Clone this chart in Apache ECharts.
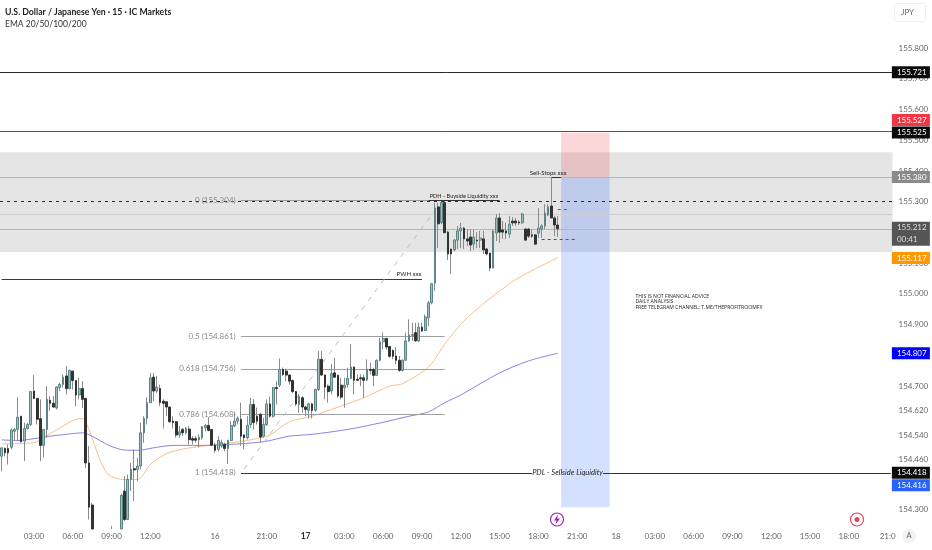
<!DOCTYPE html>
<html><head><meta charset="utf-8">
<style>html,body{margin:0;padding:0;background:#fff}#c{width:932px;height:550px}</style>
<script src="https://cdn.jsdelivr.net/npm/echarts@6/dist/echarts.min.js"></script>
</head><body><div id="c"></div>
<script>
const BAR_COUNT = 276;
const tickIndex = [10,22,34,46,66,82,94,106,118,130,142,154,166,178,190,202,214,226,238,250,262,274];
const tickText = ['03:00','06:00','09:00','12:00','16','21:00','17','03:00','06:00','09:00','12:00','15:00','18:00','21:00','18','03:00','06:00','09:00','12:00','15:00','18:00','21:0'];
const priceTicks = [155.8,155.7,155.6,155.5,155.4,155.3,155.1,155.0,154.9,154.7,154.62,154.54,154.46,154.3];

const opens = [
154.472,154.497,154.497,154.501,154.553,154.559,154.602,154.521,154.562,154.575,
154.684,154.660,154.594,154.507,154.559,154.654,154.644,154.629,154.695,154.705,
154.733,154.692,154.749,154.718,154.671,154.692,154.660,154.450,154.313,154.190,
154.150,154.120,154.100,154.130,154.160,154.190,154.170,154.200,154.358,154.266,
154.396,154.431,154.429,154.440,154.548,154.595,154.646,154.729,154.684,154.692,
154.651,154.649,154.632,154.586,154.584,154.541,154.559,154.548,154.560,154.529,
154.529,154.525,154.532,154.564,154.572,154.559,154.508,154.494,154.505,154.510,
154.497,154.523,154.570,154.586,154.592,154.541,154.532,154.575,154.640,154.602,
154.608,154.537,154.575,154.642,154.602,154.695,154.703,154.754,154.749,154.736,
154.718,154.682,154.640,154.662,154.632,154.621,154.642,154.621,154.689,154.787,
154.736,154.700,154.684,154.743,154.735,154.703,154.695,154.705,154.725,154.762,
154.722,154.727,154.727,154.720,154.754,154.754,154.735,154.784,154.844,154.855,
154.829,154.816,154.798,154.784,154.751,154.784,154.847,154.865,154.874,154.847,
154.892,154.881,154.922,154.971,155.035,155.283,155.232,155.297,155.201,155.146,
155.143,155.175,155.205,155.214,155.179,155.185,155.162,155.175,155.175,155.179,
155.146,155.133,155.084,155.198,155.247,155.208,155.205,155.195,155.237,155.237,
155.234,155.231,155.211,155.211,155.192,155.192,155.198,155.211,155.221,155.257,155.286,155.247,155.224];
const closes = [
154.499,154.483,154.483,154.557,154.559,154.599,154.519,154.562,154.575,154.682,
154.660,154.592,154.507,154.559,154.657,154.644,154.632,154.697,154.705,154.729,
154.692,154.751,154.718,154.671,154.692,154.657,154.450,154.306,154.200,154.150,
154.120,154.100,154.130,154.160,154.190,154.170,154.200,154.345,154.266,154.396,
154.429,154.427,154.440,154.548,154.595,154.646,154.727,154.684,154.697,154.646,
154.644,154.632,154.584,154.581,154.541,154.551,154.548,154.562,154.526,154.524,
154.524,154.534,154.568,154.572,154.556,154.508,154.491,154.523,154.516,154.497,
154.524,154.572,154.586,154.595,154.537,154.532,154.573,154.640,154.581,154.586,
154.534,154.575,154.642,154.602,154.695,154.692,154.754,154.738,154.736,154.716,
154.682,154.642,154.667,154.632,154.624,154.642,154.621,154.689,154.787,154.736,
154.697,154.682,154.741,154.729,154.668,154.664,154.703,154.725,154.762,154.719,
154.719,154.724,154.719,154.755,154.751,154.735,154.784,154.844,154.855,154.827,
154.797,154.797,154.784,154.751,154.784,154.847,154.866,154.868,154.847,154.892,
154.879,154.925,154.971,155.033,155.279,155.228,155.297,155.199,155.130,155.130,
155.175,155.205,155.214,155.179,155.172,155.159,155.185,155.172,155.182,155.143,
155.130,155.084,155.205,155.247,155.201,155.201,155.198,155.227,155.231,155.231,
155.231,155.260,155.175,155.188,155.188,155.162,155.214,155.221,155.263,155.283,155.247,155.224,155.212];
const lows = [
154.423,154.472,154.445,154.494,154.521,154.521,154.516,154.456,154.559,154.570,
154.657,154.575,154.456,154.467,154.532,154.619,154.629,154.624,154.684,154.695,
154.673,154.689,154.689,154.635,154.657,154.629,154.434,154.266,154.170,154.130,
154.100,154.080,154.080,154.110,154.140,154.150,154.150,154.180,154.261,154.266,
154.358,154.326,154.391,154.429,154.516,154.575,154.646,154.651,154.678,154.635,
154.562,154.602,154.581,154.562,154.532,154.532,154.537,154.543,154.510,154.510,
154.516,154.501,154.526,154.553,154.553,154.505,154.483,154.488,154.499,154.488,
154.447,154.521,154.567,154.575,154.505,154.494,154.526,154.564,154.559,154.575,
154.516,154.532,154.570,154.597,154.597,154.640,154.697,154.733,154.716,154.705,
154.678,154.635,154.613,154.613,154.602,154.595,154.595,154.617,154.684,154.733,
154.657,154.646,154.673,154.727,154.662,154.657,154.630,154.695,154.722,154.673,
154.716,154.700,154.662,154.716,154.738,154.700,154.733,154.781,154.819,154.819,
154.792,154.787,154.771,154.747,154.747,154.781,154.844,154.847,154.844,154.844,
154.877,154.879,154.895,154.966,155.009,155.150,155.227,155.198,155.110,155.065,
155.139,155.146,155.149,155.146,155.156,155.139,155.143,155.149,155.149,155.130,
155.125,155.074,155.084,155.172,155.166,155.179,155.179,155.182,155.221,155.221,
155.224,155.227,155.172,155.182,155.182,155.159,155.182,155.182,155.211,155.253,155.247,155.188,155.185];
const highs = [
154.501,154.501,154.510,154.562,154.564,154.664,154.602,154.581,154.581,154.684,
154.736,154.660,154.657,154.559,154.700,154.667,154.667,154.700,154.711,154.738,
154.765,154.754,154.749,154.718,154.727,154.716,154.660,154.505,154.320,154.210,
154.180,154.140,154.160,154.190,154.244,154.210,154.225,154.350,154.407,154.412,
154.450,154.494,154.467,154.581,154.602,154.664,154.743,154.743,154.733,154.705,
154.657,154.651,154.632,154.602,154.586,154.570,154.564,154.567,154.570,154.537,
154.537,154.543,154.570,154.577,154.599,154.559,154.516,154.537,154.526,154.516,
154.525,154.586,154.613,154.602,154.646,154.543,154.602,154.662,154.657,154.630,
154.613,154.597,154.657,154.667,154.697,154.716,154.790,154.760,154.757,154.738,
154.722,154.684,154.675,154.667,154.635,154.646,154.646,154.692,154.814,154.814,
154.738,154.705,154.771,154.792,154.738,154.727,154.727,154.760,154.836,154.765,
154.738,154.738,154.738,154.787,154.776,154.760,154.787,154.857,154.874,154.857,
154.830,154.819,154.827,154.798,154.787,154.874,154.917,154.906,154.906,154.906,
154.906,154.933,154.977,155.036,155.297,155.297,155.299,155.302,155.205,155.146,
155.179,155.221,155.231,155.218,155.211,155.211,155.208,155.201,155.205,155.205,
155.149,155.133,155.208,155.260,155.263,155.237,155.231,155.253,155.250,155.247,
155.240,155.263,155.214,155.214,155.211,155.195,155.279,155.227,155.292,155.292,155.379,155.253,155.253];

const emaFastIndex = [0,10,13,18,23,25,27,30,33,38,42,46,51,57,65,71,76,81,83,89,96,102,112,120,124,132,137,142,147,154,159,165,172];
const emaFastValues = [154.512,154.516,154.532,154.564,154.592,154.594,154.559,154.472,154.412,154.396,154.396,154.445,154.480,154.497,154.508,154.516,154.523,154.534,154.541,154.584,154.602,154.624,154.662,154.700,154.708,154.762,154.836,154.901,154.951,155.009,155.047,155.081,155.118];
const emaSlowIndex = [0,5,10,15,20,25,28,33,38,42,48,53,61,70,81,89,96,107,117,126,132,137,142,154,163,172];
const emaSlowValues = [154.525,154.523,154.529,154.537,154.543,154.548,154.537,154.508,154.492,154.491,154.501,154.507,154.507,154.510,154.519,154.537,154.543,154.559,154.580,154.602,154.616,154.646,154.671,154.743,154.782,154.807];

const fibValues = [155.304,154.861,154.756,154.608,154.418];
const fibLabels = ['0 (155.304)','0.5 (154.861)','0.618 (154.756)','0.786 (154.608)','1 (154.418)'];

const badgeText = ['155.721','155.527','155.525','155.380','155.212\n00:41','155.117','154.807','154.418','154.416'];
const badgePrice = [155.721,155.527,155.525,155.380,155.212,155.117,154.807,154.418,154.416];
const badgeColor = ['#0b0b0b','#f23645','#0b0b0b','#8a8a8a','#555555','#ff9800','#0000ff','#0b0b0b','#2962ff'];
const badgeShift = [0,-12,0,0,5,0,0,0,12];

const AXIS_MIN = 154.235, AXIS_MAX = 155.953;
const FONT = 'Lato,"Open Sans",sans-serif';
const categories = Array.from({length:BAR_COUNT},(_,i)=>String(i));
const tickMap = {}; tickIndex.forEach((i,k)=>tickMap[i]=tickText[k]);

const inView = v=>Math.max(v,AXIS_MIN);
const hidden = i=>highs[i]<AXIS_MIN;
const wicks = opens.map((o,i)=>hidden(i)?['-','-','-','-']:[inView(o),inView(closes[i]),inView(lows[i]),inView(highs[i])]);
const bodies = opens.map((o,i)=>{
  if(hidden(i)||Math.max(o,closes[i])<AXIS_MIN) return ['-','-','-','-'];
  const a=inView(o),b=inView(closes[i]);return [a,b,Math.min(a,b),Math.max(a,b)];});

const solid = (c,w)=>({color:c,width:w,type:'solid'});
const dash = (c,w,d)=>({color:c,width:w,type:d||'dashed'});
const hseg=(a,b,p,ls)=>[{coord:[a,p],lineStyle:ls},{coord:[b,p]}];
const hfull=(p,ls)=>({yAxis:p,lineStyle:ls});

const markLines = [
  hfull(155.721,solid('#2a2a2a',1)),
  hfull(155.525,solid('#555555',1)),
  hfull(155.380,solid('#b4b4b4',1)),
  hfull(155.297,dash('#2b2b2b',1,[3,4])),
  hfull(155.26,solid('#cfcfcf',1)),
  hfull(155.212,solid('#b8b8b8',1)),
  hseg(0,130,155.048,solid('#3a3a3a',1)),
  hseg(74,132,155.304,solid('#9a9a9a',1)),
  hseg(132,154,155.304,solid('#333',1)),
  hseg(74,137,154.861,solid('#a0a0a0',1)),
  hseg(74,137,154.756,solid('#a0a0a0',1)),
  hseg(74,137,154.608,solid('#a0a0a0',1)),
  hseg(74,164,154.418,solid('#333',1)),
  hseg(186,275,154.418,solid('#333',1)),
  [{coord:[75,154.43],lineStyle:dash('#bdbdbd',1,[5,6])},{coord:[136,155.30]}],
  hseg(170,173,155.380,solid('#333',1)),
  hseg(172,175,155.276,dash('#666',1,[3,3])),
  hseg(167,178,155.179,dash('#555',1,[3,3])),
];
const annotations = [
  {t:'PWH xxx',x:126,p:155.065,s:6,c:'#222',w:'normal'},
  {t:'PDH - Buyside Liquidity xxx',x:143,p:155.318,s:5.6,c:'#222',w:'normal'},
  {t:'Sell-Stops xxx',x:169,p:155.393,s:6,c:'#222',w:'normal'},
  {t:'PDL - Sellside Liquidity',x:175,p:154.418,s:7.5,c:'#222',w:'normal',i:'italic'},
];

const option = {
  animation:false,
  backgroundColor:'#fff',
  title:{left:0,top:3,text:'U.S. Dollar / Japanese Yen · 15 · IC Markets',subtext:'EMA 20/50/100/200',itemGap:3,
    textStyle:{fontFamily:FONT,fontSize:8.7,fontWeight:'bold',color:'#222'},
    subtextStyle:{fontFamily:FONT,fontSize:8.5,color:'#333'}},
  grid:{left:0,top:1,width:892.5,height:528,containLabel:false},
  xAxis:{type:'category',data:categories,boundaryGap:true,axisLine:{show:false},axisTick:{show:false},splitLine:{show:false},
    axisLabel:{margin:3,fontFamily:FONT,fontSize:8,color:'#666',showMinLabel:true,showMaxLabel:true,hideOverlap:false,
      interval:(i)=>tickMap[i]!==undefined,
      formatter:(v,i)=>{const t=tickMap[i]; if(t===undefined) return ''; return t==='17'?'{b|17}':t;},
      rich:{b:{fontFamily:FONT,fontSize:8.5,fontWeight:'bold',color:'#333'}}}},
  yAxis:{type:'value',position:'right',min:AXIS_MIN,max:AXIS_MAX,scale:true,axisLine:{show:false},axisTick:{show:false},splitLine:{show:false},
    axisLabel:{customValues:priceTicks,margin:6,fontFamily:FONT,fontSize:8,color:'#666',formatter:v=>Number(v).toFixed(3)}},
  series:[
    {type:'line',name:'zones',data:[],z:1,silent:true,
      markArea:{silent:true,data:[[{yAxis:155.461,itemStyle:{color:'#e5e5e5'}},{yAxis:155.136}]]}},
    {type:'line',name:'position',data:[],z:2,silent:true,
      markArea:{silent:true,data:[
        [{coord:[173,155.525],itemStyle:{color:'rgba(242,54,69,0.2)'}},{coord:[188,155.380]}],
        [{coord:[173,155.380],itemStyle:{color:'rgba(41,98,255,0.2)'}},{coord:[188,154.306]}]
      ]}},
    {type:'line',name:'levels',data:[],z:3,silent:true,
      markLine:{silent:true,symbol:'none',animation:false,label:{show:false},data:markLines}},
    {type:'line',name:'EMA 50',data:emaFastIndex.map((x,k)=>[x,emaFastValues[k]]),smooth:0.3,showSymbol:false,z:4,
      lineStyle:{color:'#f6c08c',width:1}},
    {type:'line',name:'EMA 200',data:emaSlowIndex.map((x,k)=>[x,emaSlowValues[k]]),smooth:0.3,showSymbol:false,z:4,
      lineStyle:{color:'#8784e6',width:1}},
    {type:'candlestick',name:'wicks',data:wicks,barWidth:1,z:5,
      itemStyle:{color:'#8a8a8a',color0:'#8a8a8a',borderColor:'#8a8a8a',borderColor0:'#8a8a8a',borderWidth:1}},
    {type:'candlestick',name:'bodies',data:bodies,barWidth:2.2,z:6,
      itemStyle:{color:'#9fbdbd',color0:'#333333',borderColor:'#5c8686',borderColor0:'#333333',borderWidth:1}},
    {type:'scatter',name:'fib labels',z:7,symbolSize:0,silent:true,itemStyle:{opacity:1},
      data:fibValues.map((p,k)=>({value:[73,p],label:{formatter:fibLabels[k]}})),
      label:{show:true,position:'left',distance:2,fontFamily:FONT,fontSize:8,color:'#8a8a8a'}},
    {type:'scatter',name:'notes',z:7,symbolSize:1,silent:true,itemStyle:{color:'transparent',opacity:1},
      data:annotations.map(a=>({value:[a.x,a.p],label:{formatter:a.t,fontSize:a.s,color:a.c,fontWeight:a.w,fontStyle:a.i||'normal'}})),
      label:{show:true,position:'inside',fontFamily:FONT}},
    {type:'scatter',name:'disclaimer',z:8,symbolSize:0,silent:true,itemStyle:{opacity:1},
      data:[{value:[196,154.974],label:{formatter:'THIS IS NOT FINANCIAL ADVICE\nDAILY ANALYSIS\nFREE TELEGRAM CHANNEL: T.ME/THEPROFITROOMFX'}}],
      label:{show:true,position:'right',distance:0,fontFamily:'"Open Sans",sans-serif',fontSize:5.1,lineHeight:5.2,color:'#222'}},
    {type:'scatter',name:'price badges',z:20,symbolSize:0,silent:true,clip:false,itemStyle:{opacity:1},
      data:badgePrice.map((p,k)=>({value:[275,p],label:{formatter:badgeText[k],backgroundColor:badgeColor[k],
        offset:[0,badgeShift[k]],height:badgeText[k].includes('\n')?24:12,lineHeight:12,
        color:k===4?'#ddd':'#fff'}})),
      label:{show:true,position:'right',distance:1,width:33,padding:[0,0,0,5],align:'left',verticalAlign:'middle',fontFamily:FONT,fontSize:8,opacity:1}}
  ],
  graphic:[
    {type:'rect',left:894,top:3,shape:{width:31,height:18,r:2},style:{fill:'#fff',stroke:'#efefef'},z:30},
    {type:'text',left:901,top:8,style:{text:'JPY',fill:'#666',font:'8px '+FONT},z:31},
    {type:'circle',shape:{cx:909,cy:536,r:7},style:{fill:'#f2f2f2'},z:30},
    {type:'text',left:906.5,top:532,style:{text:'A',fill:'#666',font:'7.5px '+FONT},z:31},
    {type:'circle',shape:{cx:557,cy:519.5,r:6.5},style:{fill:'#fff',stroke:'#9c27b0',lineWidth:1.2},z:30},
    {type:'polygon',shape:{points:[[558,514.5],[554,520.5],[556.6,520.5],[555.5,524.5],[560,518.5],[557.3,518.5]]},style:{fill:'#9c27b0'},z:31},
    {type:'circle',shape:{cx:857,cy:519.5,r:6.5},style:{fill:'#fff',stroke:'#e0465a',lineWidth:1.2},z:30},
    {type:'circle',shape:{cx:857,cy:519.5,r:2.5},style:{fill:'#e0465a'},z:31}
  ]
};
const chart = echarts.init(document.getElementById('c'),null,{renderer:'canvas'});
chart.setOption(option);
</script></body></html>
